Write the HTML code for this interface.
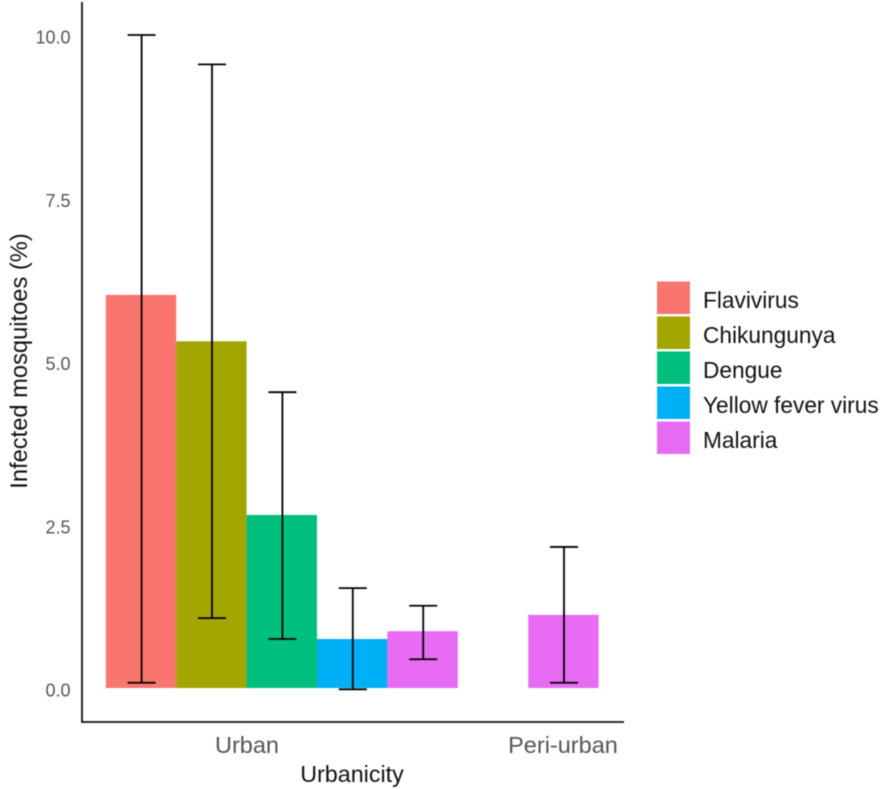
<!DOCTYPE html>
<html>
<head>
<meta charset="utf-8">
<title>Infected mosquitoes by urbanicity</title>
<style>
html,body{margin:0;padding:0;background:#fff;}
svg{display:block;font-family:"Liberation Sans",sans-serif;}
</style>
</head>
<body>
<svg id="chart" width="886" height="789" viewBox="0 0 886 789" xmlns="http://www.w3.org/2000/svg">
<rect x="0" y="0" width="886" height="789" fill="#ffffff"/>
<g id="soft" style="filter:blur(0.45px)">
<g id="bars"></g>
<g id="errors"></g>
<line x1="82" y1="2" x2="82" y2="722.5" stroke="#111" stroke-width="1.8"/>
<line x1="81.2" y1="722" x2="624" y2="722" stroke="#111" stroke-width="1.8"/>
<g id="yticks"></g>
<g id="xticks"></g>
<text x="352" y="782" text-anchor="middle" font-size="23.3" fill="#111">Urbanicity</text>
<text transform="translate(27,361) rotate(-90)" text-anchor="middle" font-size="23.7" fill="#111">Infected mosquitoes (%)</text>
<g id="legend"></g>
</g>
</svg>
<script>
const categories = ['Urban', 'Peri-urban'];
const seriesNames = ['Flavivirus', 'Chikungunya', 'Dengue', 'Yellow fever virus', 'Malaria'];
const seriesColors = ['#F8766D', '#A3A500', '#00BF7D', '#00B0F6', '#E76BF3'];
const barCategory = [0, 0, 0, 0, 0, 1];
const barSeries = [0, 1, 2, 3, 4, 4];
const barValues = [6.02, 5.31, 2.65, 0.75, 0.87, 1.12];
const errorLower = [0.08, 1.07, 0.75, -0.02, 0.44, 0.08];
const errorUpper = [10.0, 9.55, 4.53, 1.53, 1.26, 2.16];
const yTickValues = [0, 2.5, 5, 7.5, 10];
const yTickLabels = ['0.0', '2.5', '5.0', '7.5', '10.0'];

const NS = 'http://www.w3.org/2000/svg';
const yScale = v => 688 - v * 65.3;
const slotWidth = 70.4;
const xSlot = s => 105.8 + s * slotWidth;
const categoryStartSlot = c => c * 6;
const categoryLabelX = c => c === 0 ? 247 : 563;

function make(tag, attrs, parent) {
  const el = document.createElementNS(NS, tag);
  for (const k in attrs) el.setAttribute(k, attrs[k]);
  parent.appendChild(el);
  return el;
}

const barsG = document.getElementById('bars');
const errorsG = document.getElementById('errors');
const slotCounts = {};
barValues.forEach((value, i) => {
  const cat = barCategory[i];
  slotCounts[cat] = slotCounts[cat] || 0;
  const slot = categoryStartSlot(cat) + slotCounts[cat];
  slotCounts[cat] += 1;
  const key = categories[cat].toLowerCase() + '-' + seriesNames[barSeries[i]].toLowerCase().replace(/ /g, '-');

  const bar = make('rect', {
    x: xSlot(slot), y: yScale(value),
    width: slotWidth, height: yScale(0) - yScale(value),
    fill: seriesColors[barSeries[i]]
  }, barsG);
  
  

  const cx = xSlot(slot + 0.5) + 0.6;
  const hi = yScale(errorUpper[i]);
  const lo = yScale(errorLower[i]);
  const err = make('path', {
    d: 'M' + (cx - 14) + ' ' + hi + 'H' + (cx + 14) +
       'M' + cx + ' ' + hi + 'V' + lo +
       'M' + (cx - 14) + ' ' + lo + 'H' + (cx + 14),
    fill: 'none', stroke: '#000', 'stroke-width': 1.8
  }, errorsG);
  
  
});

const yG = document.getElementById('yticks');
yTickValues.forEach((v, i) => {
  const t = make('text', {
    x: 70.5, y: yScale(v) + 8.5, 'text-anchor': 'end',
    'font-size': 18, fill: '#555'
  }, yG);
  t.textContent = yTickLabels[i];
  
  
});

const xG = document.getElementById('xticks');
categories.forEach((c, i) => {
  const t = make('text', {
    x: categoryLabelX(i), y: 753, 'text-anchor': 'middle',
    'font-size': 23.5, fill: '#555'
  }, xG);
  t.textContent = c;
  
  
});

const legendG = document.getElementById('legend');
seriesNames.forEach((name, i) => {
  const top = 281 + i * 35;
  const swatch = make('rect', {
    x: 657, y: top + 0.5, width: 33, height: 32.5, fill: seriesColors[i]
  }, legendG);
  
  
  const label = make('text', {
    x: 703, y: top + 27.2, 'font-size': 22.7, fill: '#111'
  }, legendG);
  label.textContent = name;
  
  
});
</script>
</body>
</html>
